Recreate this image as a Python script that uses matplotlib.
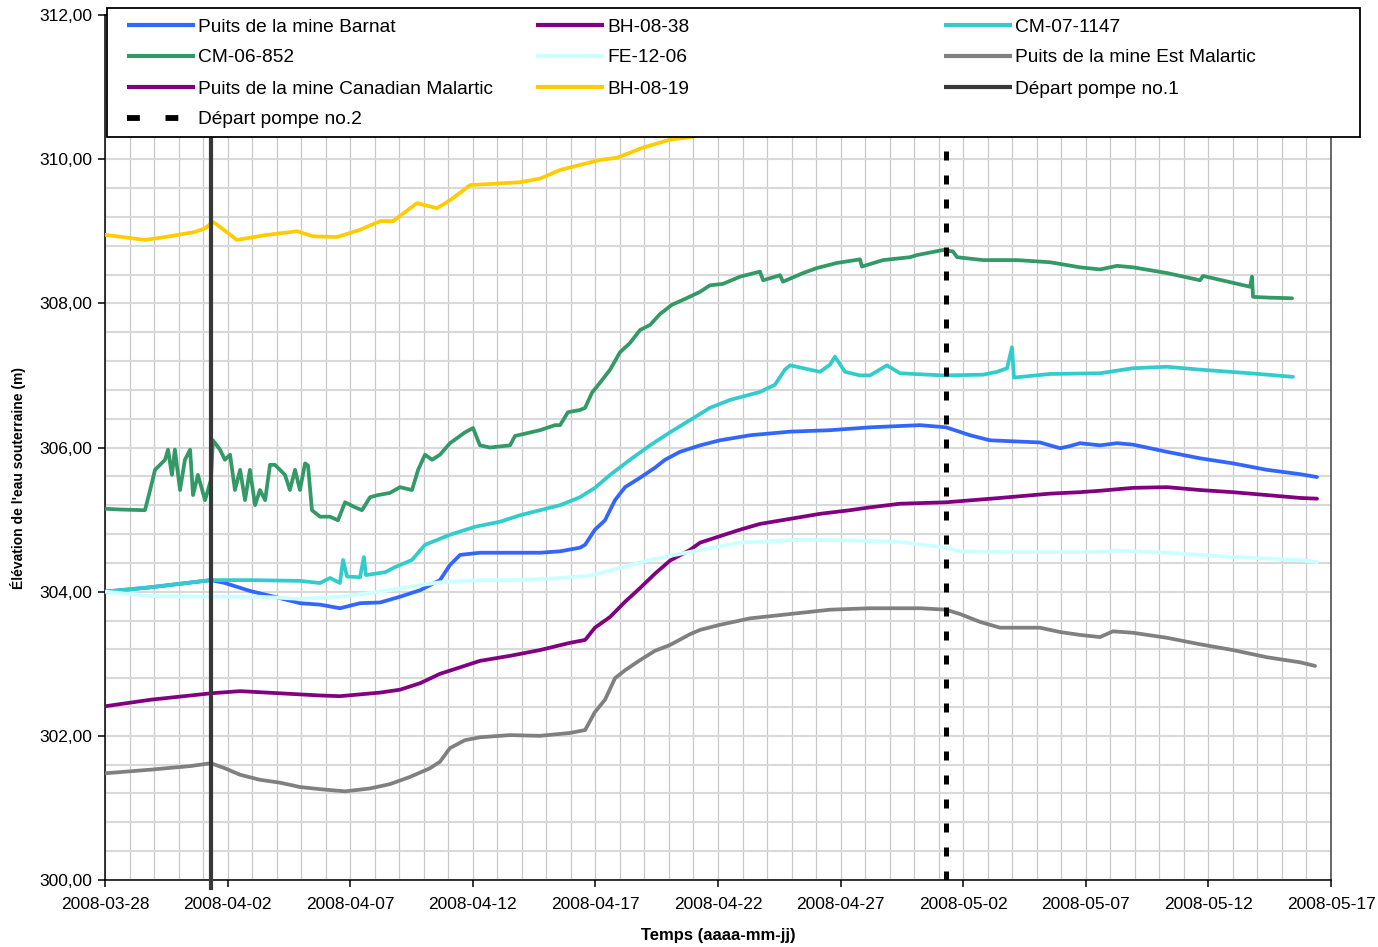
import numpy as np
import pandas as pd
import matplotlib
matplotlib.use("Agg")
import matplotlib.pyplot as plt
import matplotlib.dates as mdates
from matplotlib.lines import Line2D
from matplotlib.patches import Rectangle
from matplotlib.ticker import MultipleLocator, FuncFormatter

plt.rcParams["font.family"] = ["Liberation Sans", "DejaVu Sans"]

START = "2008-03-28"
END = "2008-05-17"

# Water-table elevations (m); time given as days elapsed since START
barnat_days = [0, 1.84, 4.32, 4.89, 5.91, 7.14, 7.95, 8.77, 9.58, 10.40, 11.22, 12.03, 12.85,
               13.66, 14.07, 14.48, 15.29, 16.11, 17.74, 18.56, 19.37, 19.58, 19.98, 20.39,
               20.80, 21.21, 21.82, 22.43, 22.84, 23.45, 24.27, 25.08, 26.31, 27.94, 29.57,
               31.20, 33.24, 34.30, 35.28, 36.09, 38.13, 38.95, 39.36, 39.76, 40.58, 41.27,
               41.92, 43.31, 44.66, 46.00, 47.39, 48.74, 49.43]
barnat_lvl = [304.00, 304.06, 304.16, 304.12, 304.01, 303.91, 303.84, 303.82, 303.77, 303.84,
              303.85, 303.93, 304.02, 304.16, 304.37, 304.51, 304.54, 304.54, 304.54, 304.56,
              304.61, 304.65, 304.86, 304.99, 305.27, 305.45, 305.58, 305.72, 305.83, 305.94,
              306.03, 306.10, 306.17, 306.22, 306.24, 306.28, 306.31, 306.28, 306.17, 306.10,
              306.07, 305.99, 306.02, 306.06, 306.03, 306.06, 306.04, 305.94, 305.85, 305.78,
              305.69, 305.63, 305.59]

bh0838_days = [0, 1.84, 4.32, 5.51, 7.14, 8.77, 9.58, 11.22, 12.03, 12.85, 13.66, 14.48, 15.29,
               16.52, 17.74, 18.96, 19.58, 19.98, 20.60, 21.21, 21.82, 22.43, 23.04, 23.86,
               24.27, 25.08, 25.90, 26.71, 27.94, 29.16, 30.38, 31.20, 32.42, 34.30, 36.50,
               38.54, 39.76, 40.58, 41.92, 43.31, 44.66, 46.00, 47.39, 48.74, 49.43]
bh0838_lvl = [302.41, 302.50, 302.59, 302.62, 302.59, 302.56, 302.55, 302.60, 302.64, 302.73,
              302.86, 302.95, 303.04, 303.11, 303.19, 303.29, 303.33, 303.50, 303.65, 303.86,
              304.05, 304.25, 304.43, 304.58, 304.68, 304.77, 304.86, 304.94, 305.01, 305.08,
              305.13, 305.17, 305.22, 305.24, 305.30, 305.36, 305.38, 305.40, 305.44, 305.45,
              305.41, 305.38, 305.34, 305.30, 305.29]

cm071147_days = [0, 1.84, 4.32, 5.91, 7.95, 8.77, 9.18, 9.58, 9.71, 9.87, 10.40, 10.56, 10.64,
                 11.42, 11.83, 12.52, 13.05, 14.07, 15.09, 16.11, 16.92, 17.74, 18.56, 19.37,
                 19.98, 20.60, 21.41, 22.23, 23.04, 23.86, 24.67, 25.49, 26.71, 27.32, 27.73,
                 27.94, 28.75, 29.16, 29.57, 29.77, 30.18, 30.79, 31.20, 31.89, 32.42, 34.18,
                 35.81, 36.38, 36.79, 36.99, 37.07, 38.54, 40.58, 41.92, 43.31, 44.66, 46.70,
                 48.45]
cm071147_lvl = [304.00, 304.06, 304.16, 304.16, 304.15, 304.12, 304.19, 304.12, 304.44, 304.21,
                304.20, 304.48, 304.23, 304.27, 304.34, 304.44, 304.65, 304.79, 304.90, 304.97,
                305.06, 305.13, 305.20, 305.31, 305.44, 305.62, 305.83, 306.03, 306.21, 306.38,
                306.55, 306.66, 306.77, 306.87, 307.08, 307.14, 307.08, 307.05, 307.15, 307.26,
                307.05, 307.00, 307.00, 307.14, 307.03, 307.00, 307.01, 307.05, 307.10, 307.39,
                306.97, 307.02, 307.03, 307.10, 307.12, 307.08, 307.03, 306.98]

cm06852_days = [0, 0.61, 1.63, 1.84, 2.04, 2.45, 2.57, 2.73, 2.85, 3.06, 3.26, 3.47, 3.59, 3.79,
                4.08, 4.32, 4.40, 4.69, 4.89, 5.10, 5.30, 5.51, 5.71, 5.91, 6.12, 6.32, 6.53,
                6.73, 6.93, 7.34, 7.54, 7.75, 7.95, 8.16, 8.28, 8.44, 8.77, 9.18, 9.50, 9.79,
                10.20, 10.48, 10.81, 11.13, 11.62, 12.03, 12.52, 12.77, 13.05, 13.34, 13.66,
                14.07, 14.68, 15.01, 15.29, 15.70, 16.52, 16.72, 17.74, 18.35, 18.56, 18.88,
                19.37, 19.58, 19.86, 20.19, 20.60, 21.00, 21.41, 21.82, 22.23, 22.63, 23.12,
                23.65, 24.27, 24.67, 25.20, 25.90, 26.71, 26.84, 27.53, 27.65, 28.47, 29.04,
                29.85, 30.79, 30.87, 31.73, 32.83, 33.12, 34.18, 34.58, 34.75, 35.81, 37.19,
                38.54, 39.76, 40.58, 41.27, 41.92, 43.31, 44.66, 44.78, 46.70, 46.78, 46.82,
                47.39, 48.41]
cm06852_lvl = [305.15, 305.14, 305.13, 305.41, 305.69, 305.83, 305.97, 305.62, 305.97, 305.41,
               305.83, 305.97, 305.34, 305.62, 305.27, 305.55, 306.10, 305.97, 305.83, 305.90,
               305.41, 305.69, 305.27, 305.69, 305.20, 305.41, 305.27, 305.76, 305.76, 305.62,
               305.41, 305.69, 305.41, 305.78, 305.75, 305.13, 305.04, 305.04, 304.99, 305.24,
               305.17, 305.13, 305.31, 305.34, 305.37, 305.45, 305.41, 305.69, 305.90, 305.83,
               305.90, 306.06, 306.21, 306.27, 306.03, 306.00, 306.03, 306.16, 306.24, 306.31,
               306.31, 306.49, 306.52, 306.55, 306.76, 306.90, 307.08, 307.32, 307.45, 307.63,
               307.70, 307.85, 307.98, 308.06, 308.16, 308.25, 308.27, 308.37, 308.44, 308.32,
               308.39, 308.30, 308.42, 308.49, 308.56, 308.61, 308.51, 308.60, 308.64, 308.67,
               308.74, 308.72, 308.64, 308.60, 308.60, 308.57, 308.50, 308.47, 308.52, 308.50,
               308.42, 308.32, 308.38, 308.23, 308.37, 308.09, 308.08, 308.07]

fe1206_days = [0, 1.84, 4.32, 6.32, 7.95, 9.58, 11.22, 12.85, 13.66, 15.29, 16.92, 18.56, 19.78,
               21.00, 22.23, 24.27, 25.90, 28.34, 30.38, 32.42, 34.30, 34.87, 36.50, 38.54,
               40.58, 41.27, 43.31, 46.00, 48.74, 49.43]
fe1206_lvl = [304.00, 303.94, 303.93, 303.93, 303.90, 303.93, 304.00, 304.09, 304.13, 304.16,
              304.16, 304.19, 304.22, 304.33, 304.44, 304.58, 304.68, 304.72, 304.71, 304.69,
              304.61, 304.56, 304.55, 304.55, 304.55, 304.57, 304.54, 304.48, 304.44, 304.41]

est_days = [0, 1.84, 3.47, 4.32, 4.89, 5.51, 6.32, 7.14, 7.95, 8.77, 9.79, 10.81, 11.62, 12.44,
            13.25, 13.66, 14.07, 14.68, 15.29, 16.52, 17.74, 18.96, 19.58, 19.98, 20.39, 20.80,
            21.21, 21.82, 22.43, 23.04, 23.86, 24.27, 25.08, 26.31, 27.94, 29.57, 31.20, 33.24,
            34.30, 34.87, 35.69, 36.50, 38.13, 38.95, 39.76, 40.58, 41.11, 41.92, 43.31, 44.66,
            46.00, 47.39, 48.74, 49.35]
est_lvl = [301.48, 301.53, 301.58, 301.62, 301.55, 301.46, 301.39, 301.35, 301.29, 301.26,
           301.23, 301.27, 301.33, 301.43, 301.55, 301.64, 301.83, 301.94, 301.98, 302.01,
           302.00, 302.04, 302.08, 302.33, 302.50, 302.80, 302.91, 303.05, 303.18, 303.26,
           303.41, 303.47, 303.54, 303.63, 303.69, 303.75, 303.77, 303.77, 303.75, 303.69,
           303.58, 303.50, 303.50, 303.44, 303.40, 303.37, 303.45, 303.43, 303.36, 303.27,
           303.19, 303.09, 303.02, 302.97]

bh0819_days = [0, 1.63, 2.45, 3.67, 4.08, 4.40, 4.69, 5.38, 6.61, 7.83, 8.48, 9.46, 10.40,
               11.22, 11.75, 12.72, 13.54, 14.07, 14.89, 16.92, 17.74, 18.56, 20.19, 20.88,
               21.94, 23.04, 23.98, 25.00, 26.50]
bh0819_lvl = [308.95, 308.88, 308.92, 308.99, 309.04, 309.13, 309.06, 308.88, 308.95, 309.00,
              308.93, 308.92, 309.02, 309.14, 309.14, 309.39, 309.32, 309.43, 309.64, 309.68,
              309.73, 309.85, 309.99, 310.02, 310.16, 310.27, 310.31, 310.45, 310.60]

pump1_start = "2008-04-01 07:45"
pump2_start = "2008-05-01 07:10"


def to_dates(days):
    return pd.Timestamp(START) + pd.to_timedelta(np.asarray(days), unit="D")


series = [
    ("Puits de la mine Barnat", barnat_days, barnat_lvl, "#3366FF"),
    ("BH-08-38", bh0838_days, bh0838_lvl, "#800080"),
    ("CM-07-1147", cm071147_days, cm071147_lvl, "#33CCCC"),
    ("CM-06-852", cm06852_days, cm06852_lvl, "#339966"),
    ("FE-12-06", fe1206_days, fe1206_lvl, "#CCFFFF"),
    ("Puits de la mine Est Malartic", est_days, est_lvl, "#808080"),
    ("BH-08-19", bh0819_days, bh0819_lvl, "#FFCC00"),
]

W, H = 1378, 947
fig = plt.figure(figsize=(W / 100, H / 100), dpi=100)
ax = fig.add_axes([105 / W, 1 - 880 / H, (1331 - 105) / W, (880 - 15) / H])

# grid
ax.set_axisbelow(True)
ax.xaxis.set_minor_locator(mdates.DayLocator())
ax.yaxis.set_major_locator(MultipleLocator(2))
ax.yaxis.set_minor_locator(MultipleLocator(0.4))
ax.grid(which="both", axis="x", color="#C8C8C8", lw=0.9)
ax.grid(which="both", axis="y", color="#D9D9D9", lw=1.5)

for name, d, v, c in series:
    ax.plot(to_dates(d), v, color=c, lw=2.7, solid_joinstyle="round",
            solid_capstyle="round", zorder=3)

ax.axvline(pd.Timestamp(pump1_start), color="#383838", lw=3.0, zorder=4,
           ymin=-0.009, clip_on=False)
ax.axvline(pd.Timestamp(pump2_start), color="black", lw=3.6, zorder=4,
           linestyle=(0, (1.8, 3.0)), dash_capstyle="butt")

ax.set_xlim(pd.Timestamp(START), pd.Timestamp(END))
ax.set_ylim(300, 312)

ax.set_xticks(pd.date_range(START, END, freq="5D"))
ax.xaxis.set_major_formatter(mdates.DateFormatter("%Y-%m-%d"))
ax.yaxis.set_major_formatter(FuncFormatter(lambda v, p: f"{v:.2f}".replace(".", ",")))
ax.tick_params(which="major", direction="out", length=5, width=1.1, labelsize=12.5,
               colors="black")
ax.tick_params(axis="x", which="major", pad=7)
ax.tick_params(axis="y", which="major", pad=4)
ax.tick_params(which="minor", length=0)

for s in ax.spines.values():
    s.set_color("black")
    s.set_linewidth(1.1)
ax.spines["right"].set_color("#404040")

ax.set_ylabel("Élévation de l'eau souterraine (m)", fontsize=10, fontweight="bold", va="center")
ax.yaxis.set_label_coords((18 - 105) / 1226, (880 - 478) / 865)
ax.set_xlabel("Temps (aaaa-mm-jj)", fontsize=12, fontweight="bold", va="center")
ax.xaxis.set_label_coords(0.5, (880 - 935) / 865)

# legend box
fig.add_artist(Rectangle((107 / W, 1 - 137 / H), (1360 - 107) / W, (137 - 8) / H,
                         transform=fig.transFigure, facecolor="white", edgecolor="black",
                         lw=1.3, zorder=5))

legend_cols = [
    [("Puits de la mine Barnat", dict(color="#3366FF")),
     ("CM-06-852", dict(color="#339966")),
     ("Puits de la mine Canadian Malartic", dict(color="#800080")),
     ("Départ pompe no.2", dict(color="black", linestyle=(0, (2.2, 4.4)), lw=4.2,
                                dash_capstyle="butt"))],
    [("BH-08-38", dict(color="#800080")),
     ("FE-12-06", dict(color="#CCFFFF")),
     ("BH-08-19", dict(color="#FFCC00"))],
    [("CM-07-1147", dict(color="#33CCCC")),
     ("Puits de la mine Est Malartic", dict(color="#808080")),
     ("Départ pompe no.1", dict(color="#383838"))],
]
col_x = [127, 536, 944]
row_y = [25, 56, 87, 118]
for cx, entries in zip(col_x, legend_cols):
    for ry, (label, style) in zip(row_y, entries):
        kw = dict(lw=3.0, solid_capstyle="butt")
        kw.update(style)
        fig.add_artist(Line2D([cx / W, (cx + 68) / W], [1 - ry / H, 1 - ry / H],
                              transform=fig.transFigure, zorder=6, **kw))
        fig.text((cx + 71) / W, 1 - ry / H, label, fontsize=13.8, va="center_baseline",
                 ha="left", zorder=6)

fig.savefig("out.png", dpi=100)
